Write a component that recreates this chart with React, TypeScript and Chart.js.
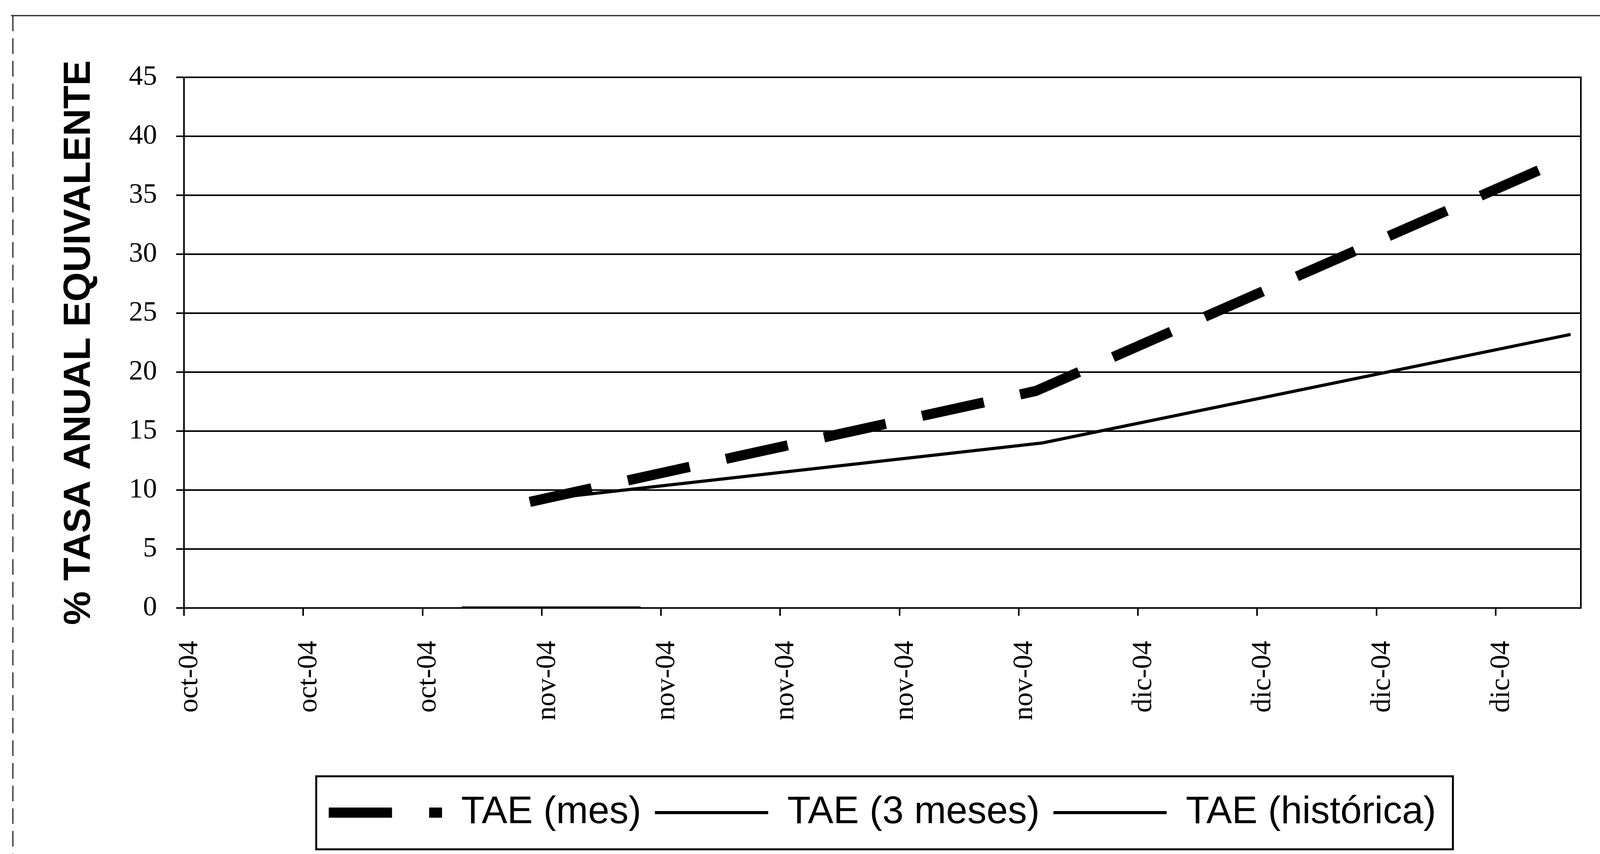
import React, { useEffect, useRef } from 'react';
import { Chart, registerables } from 'chart.js';

Chart.register(...registerables);

// ---- data ----
const tickLabels = ['oct-04', 'oct-04', 'oct-04', 'nov-04', 'nov-04', 'nov-04', 'nov-04', 'nov-04', 'dic-04', 'dic-04', 'dic-04', 'dic-04'];
const tickDays = [0, 7, 14, 21, 28, 35, 42, 49, 56, 63, 70, 77];
const axisMaxDay = 82;

const seriesLabels = ['TAE (mes)', 'TAE (3 meses)', 'TAE (histórica)'];

const mesDays = [20.3, 50.0, 81.4];
const mesValues = [9.0, 18.4, 38.3];

const tresMesesDays = [20.3, 50.4, 81.4];
const tresMesesValues = [9.1, 14.0, 23.2];

const historicaDays = [16.3, 26.8];
const historicaValues = [0, 0];

const toPoints = (xs: number[], ys: number[]) => xs.map((x, i) => ({ x, y: ys[i] }));

const W = 4144;
const H = 2187;

const framePlugin = {
  id: 'framePlugin',
  afterDraw(chart: any) {
    const { ctx, chartArea } = chart;
    ctx.save();
    ctx.strokeStyle = '#000';
    ctx.setLineDash([]);
    // right border of plot area
    ctx.lineWidth = 4;
    ctx.beginPath();
    ctx.moveTo(chartArea.right, chartArea.top - 2);
    ctx.lineTo(chartArea.right, chartArea.bottom + 2);
    ctx.stroke();
    // legend frame
    const hb = chart.legend && chart.legend.legendHitBoxes;
    if (hb && hb.length) {
      const first = hb[0];
      const last = hb[hb.length - 1];
      const cy = first.top + first.height / 2;
      const left = first.left - 32;
      const right = last.left + last.width + 43;
      ctx.lineWidth = 5;
      ctx.strokeRect(left, cy - 93, right - left, 187);
    }
    // outer frame (top and left edges visible)
    ctx.lineWidth = 3;
    ctx.strokeStyle = '#222';
    ctx.beginPath();
    ctx.moveTo(28, 40);
    ctx.lineTo(4110, 40);
    ctx.stroke();
    ctx.setLineDash([40, 18]);
    ctx.beginPath();
    ctx.moveTo(33, 40);
    ctx.lineTo(33, H);
    ctx.stroke();
    ctx.restore();
  },
};

export default function App() {
  const canvasRef = useRef<HTMLCanvasElement | null>(null);

  useEffect(() => {
    if (!canvasRef.current) return;
    const chart = new Chart(canvasRef.current, {
      type: 'line',
      data: {
        datasets: [
          {
            label: seriesLabels[0],
            data: toPoints(mesDays, mesValues),
            borderColor: '#000',
            backgroundColor: '#000',
            borderWidth: 26,
            borderDash: [162, 95],
            borderCapStyle: 'butt',
            pointRadius: 0,
            tension: 0,
            fill: false,
          },
          {
            label: seriesLabels[1],
            data: toPoints(tresMesesDays, tresMesesValues),
            borderColor: '#000',
            backgroundColor: '#000',
            borderWidth: 8,
            pointRadius: 0,
            tension: 0,
            fill: false,
          },
          {
            label: seriesLabels[2],
            data: toPoints(historicaDays, historicaValues),
            borderColor: '#000',
            backgroundColor: '#000',
            borderWidth: 8,
            pointRadius: 0,
            tension: 0,
            fill: false,
          },
        ],
      },
      options: {
        animation: false,
        responsive: false,
        devicePixelRatio: 1,
        layout: { padding: { left: 0, top: 198, right: 97, bottom: 47 } },
        plugins: {
          tooltip: { enabled: false },
          legend: {
            position: 'bottom',
            fullSize: false,
            labels: {
              usePointStyle: true,
              pointStyle: 'line',
              pointStyleWidth: 290,
              padding: 35,
              color: '#000',
              font: { family: 'Liberation Sans', size: 98 },
              generateLabels: (c: any) => {
                const items = (Chart as any).defaults.plugins.legend.labels.generateLabels(c);
                return items.map((it: any) => {
                  const ds = c.data.datasets[it.datasetIndex];
                  return {
                    ...it,
                    pointStyle: 'line',
                    lineDash: ds.borderDash || [],
                    lineDashOffset: 0,
                    lineWidth: ds.borderWidth,
                    strokeStyle: ds.borderColor,
                    fillStyle: ds.borderColor,
                    lineCap: 'butt',
                  };
                });
              },
            },
          },
        },
        scales: {
          x: {
            type: 'linear',
            min: 0,
            max: axisMaxDay,
            afterBuildTicks: (scale: any) => {
              scale.ticks = tickDays.map((v) => ({ value: v }));
            },
            afterFit: (scale: any) => {
              scale.height = 440;
            },
            grid: { display: true, drawOnChartArea: false, drawTicks: true, tickLength: 20, color: '#000', lineWidth: 4 },
            border: { display: true, color: '#000', width: 4 },
            ticks: {
              minRotation: 90,
              maxRotation: 90,
              padding: 64,
              labelOffset: 15,
              color: '#000',
              font: { family: 'Liberation Serif', size: 72 },
              callback: (_v: any, i: number) => tickLabels[i],
            },
          },
          y: {
            type: 'linear',
            min: 0,
            max: 45,
            afterFit: (scale: any) => {
              scale.width = 471;
            },
            grid: { display: true, drawOnChartArea: true, drawTicks: true, tickLength: 20, color: '#000', lineWidth: 4 },
            border: { display: true, color: '#000', width: 4 },
            ticks: {
              stepSize: 5,
              padding: 49,
              color: '#000',
              font: { family: 'Liberation Serif', size: 72 },
            },
            title: {
              display: true,
              text: '% TASA ANUAL EQUIVALENTE',
              color: '#000',
              font: { family: 'Liberation Sans', size: 97, weight: 'bold' },
              padding: { top: 145, bottom: 0 },
            },
          },
        },
      },
      plugins: [framePlugin],
    } as any);
    return () => chart.destroy();
  }, []);

  return (
    <div style={{ position: 'absolute', left: 0, top: 0, width: W, height: H, background: '#fff' }}>
      <canvas ref={canvasRef} width={W} height={H} style={{ width: W, height: H, display: 'block' }} />
    </div>
  );
}
